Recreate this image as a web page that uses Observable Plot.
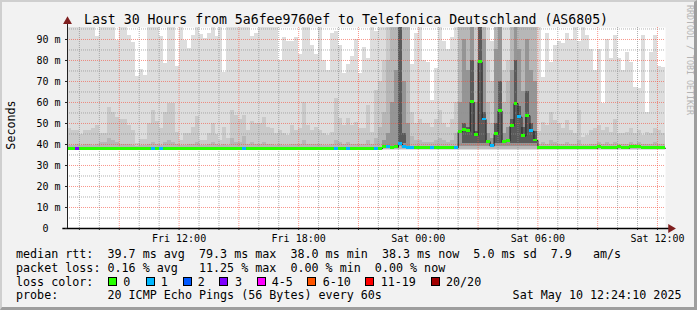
<!DOCTYPE html>
<html><head><meta charset="utf-8">
<script src="https://cdn.jsdelivr.net/npm/d3@7"></script>
<script src="https://cdn.jsdelivr.net/npm/@observablehq/plot@0.6"></script>
<style>
html,body{margin:0;padding:0;background:#f2f2f2;}
#wrap{position:relative;width:697px;height:310px;background:#f2f2f2;overflow:hidden;font-family:"DejaVu Sans Mono",monospace;}
#border{position:absolute;left:0;top:0;width:697px;height:310px;box-sizing:border-box;border-top:2px solid #cfcfcf;border-left:2px solid #cfcfcf;border-right:3px solid #9e9e9e;border-bottom:3px solid #9e9e9e;pointer-events:none}
#chart{position:absolute;left:0;top:0}
#overlay{position:absolute;left:0;top:0}
#overlay text{font-family:"DejaVu Sans Mono",monospace;white-space:pre;}
</style></head><body>
<div id="wrap"><div id="chart"></div><svg id="overlay" width="697" height="310"></svg><div id="border"></div></div>
<script>
// ---------- data ----------
const startISO = "2025-05-09T06:24:10Z";
const endISO = "2025-05-10T12:24:10Z";
const binMinutes = 12;
const yMax = 95.7;

const xTickTimes = ["2025-05-09T12:00:00Z","2025-05-09T18:00:00Z","2025-05-10T00:00:00Z","2025-05-10T06:00:00Z","2025-05-10T12:00:00Z"];
const xTickLabels = ["Fri 12:00","Fri 18:00","Sat 00:00","Sat 06:00","Sat 12:00"];
const yTickValues = [0,10,20,30,40,50,60,70,80,90];
const yTickLabels = ["0  ","10 m","20 m","30 m","40 m","50 m","60 m","70 m","80 m","90 m"];

// median rtt per 12-minute bin (ms)
const medianRtt = [
38.0,38.0,38.0,38.0,38.0,38.0,38.0,38.0,38.0,38.0,
38.0,38.0,38.0,38.0,38.0,38.0,38.0,38.0,38.0,38.0,
38.0,38.0,38.0,38.0,38.0,38.0,38.0,38.0,38.0,38.0,
38.0,38.0,38.0,38.0,38.0,38.0,38.0,38.0,38.0,38.0,
38.0,38.0,38.0,38.0,38.0,38.0,38.0,38.0,38.0,38.0,
38.0,38.0,38.0,38.0,38.0,38.0,38.0,38.0,38.0,38.0,
38.0,38.0,38.0,38.0,38.0,38.0,38.0,38.0,38.0,38.0,
38.0,38.0,38.0,38.0,38.0,38.0,38.0,38.0,38.0,38.6,
38.6,38.5,38.6,40.3,38.6,38.4,38.4,38.2,38.2,38.2,
38.4,38.2,38.2,38.2,38.2,38.2,38.2,38.4,45.9,46.7,
46.2,60.2,44.3,79.2,51.9,41.4,39.2,44.8,55.9,41.0,
41.6,48.7,59.5,53.0,44.0,53.7,46.3,41.9,38.2,38.2,
38.2,38.2,38.2,38.2,38.2,38.2,38.2,38.2,38.2,38.2,
38.2,38.2,38.2,38.9,38.2,38.2,38.2,38.2,38.6,38.2,
38.2,38.6,38.6,38.6,38.2,38.2,38.2,38.2,38.2,38.2
];
// lost pings (of 20) per bin
const lossCount = [
0,0,3,0,0,0,0,0,0,0,
0,0,0,0,0,0,0,0,0,0,
0,1,0,1,0,0,0,0,0,0,
0,0,0,0,0,0,0,0,0,0,
0,0,0,0,1,0,0,0,0,0,
0,0,0,0,0,0,0,0,0,0,
0,0,0,0,0,0,0,1,0,0,
1,0,0,0,0,0,0,1,0,0,
1,0,0,1,1,1,1,0,0,0,
0,1,0,0,0,0,0,1,0,0,
0,0,0,0,1,0,1,0,0,0,
0,0,0,1,0,0,1,0,0,0,
0,0,0,0,0,0,0,0,0,0,
0,0,0,0,0,0,0,0,0,0,
0,0,0,0,0,0,0,0,0,0
];
// smoke: outermost (max) ping per bin
const smokeMax = [
96,96,96,96,96,96,96,91.6,96,96,
96,96,89.4,96,96,91.8,88.5,72.5,75.5,73,
96,96,96,91.6,78.7,96,96,77.3,96,89.6,
85.8,91.7,96,92.2,90.3,93,96,91.6,96,74.4,
96,96,96,96,96,96,91.6,93,96,96,
96,96,96,80,91,89,89,91,83,96,
96,87,83,96,80,75,93,94,87,74,
78,82,90,74,86,81,96,94,96,96,
88,96,96,96,96,96,78,93,96,80,
79,61,76,96,89,85,91,96,96,96,
96,96,96,96,96,96,89,96,96,96,
96,96,96,96,96,96,96,96,96,72,
93,79,87,89,88,93,90,96,89,96,
92,85,75,85,59.5,90,81,92,81,75,
84,79,67,66.5,92,55.4,84,92,77,76.5
];
// second smoke layer
const smokeP2 = [
47.5,46.7,46.7,44.6,46.7,46.7,47.5,49,45,45,
57.8,55,53,51.9,51.9,49,46.7,40.6,42.4,42.4,
49.8,56.2,50.9,47.5,55.4,59.4,59.4,45.9,41.9,45,
45,48.3,53.5,41.9,41.9,45,49.8,44.6,41.9,48.3,
42.7,56.2,53.8,51.9,53.8,46.7,50.9,49.8,49.8,53,
48.3,47.5,45,46.7,45,44.3,49,46.7,47.5,59.8,
49,46.7,48.3,46.7,45,44.3,45.9,61.7,52.2,49,
52.2,49,50.6,47.5,47.5,58.6,45.9,65.7,70,80,
96,96,96,96,96,96,55,50,52,50,
50,48,52,56,50,48,52,60,96,96,
96,96,96,96,96,80,70,96,96,75,
80,96,96,96,96,96,96,96,46,50.6,
49,55.4,51.4,49.8,47.5,51.4,46.7,45,56,43.5,
44.3,46.7,47.5,49,46.7,48.3,45.9,52,45,45,
45.9,47.5,45,46.7,44.3,45.9,45,47.5,46.7,45
];
// third smoke layer
const smokeP3 = [
39.5,39.5,40,39.5,40,40,39.5,40,41,41,
43,42,41,40,40,40,39.5,39,39.5,39.5,
40,41,40,39.5,41,42,41,40,39.5,39.5,
40,40,41,39.5,39.5,40,41,40,39.5,40,
39.5,42.7,41,41,44,40,41,40,40,41,
40,40,39.5,40,39.5,39.5,40,40,40,42,
40,40,40,40,39.5,39.5,40,42,41,40,
41,40,40,40,40,42,40,43,48,55,
80,96,96,96,96,96,44,42,42,41,
41,41,42,43,42,41,42,45,96,96,
96,96,80,96,96,60,50,96,96,60,
70,96,96,96,96,96,96,96,40,41,
40,42,41,40,40,41,40,40,42,39.5,
39.5,40,40,41,40,41,40,41,40,40,
40,41,40,41,40,40,40,41,40,40
];
// fourth smoke layer (0 = none)
const smokeP4 = [
0,0,0,0,0,0,0,0,0,0, 0,0,0,0,0,0,0,0,0,0,
0,0,0,0,0,0,0,0,0,0, 0,0,0,0,0,0,0,0,0,0,
0,0,0,0,0,0,0,0,0,0, 0,0,0,0,0,0,0,0,0,0,
0,0,0,0,0,0,0,0,0,0, 0,0,0,0,0,0,0,0,0,42,
45,60,75,96,70,50,0,0,0,0,
0,0,0,0,0,0,0,0,60,90,
75,96,60,96,90,45,43,85,96,45,
48,75,96,85,65,90,75,70,0,0,
0,0,0,0,0,0,0,0,0,0, 0,0,0,0,0,0,0,0,0,0,
0,0,0,0,0,0,0,0,0,0
];
// innermost smoke layer (0 = none)
const smokeP5 = [
0,0,0,0,0,0,0,0,0,0, 0,0,0,0,0,0,0,0,0,0,
0,0,0,0,0,0,0,0,0,0, 0,0,0,0,0,0,0,0,0,0,
0,0,0,0,0,0,0,0,0,0, 0,0,0,0,0,0,0,0,0,0,
0,0,0,0,0,0,0,0,0,0, 0,0,0,0,0,0,0,0,0,0,
0,0,0,96,45,0,0,0,0,0,
0,0,0,0,0,0,0,0,0,50,
48,80,46,96,55,0,0,50,70,0,
0,52,80,58,48,65,50,46,0,0,
0,0,0,0,0,0,0,0,0,0, 0,0,0,0,0,0,0,0,0,0,
0,0,0,0,0,0,0,0,0,0
];
const smokeFloor = [37.0, 37.4, 37.8, 39.0, 40.5];
const smokeGreys = ["#dddddd","#cacaca","#b7b7b7","#959595","#5a5a5a"];

const lossUpper = [0,1,2,3,5,10,19,20];
const lossLegendLabels = ["0","1","2","3","4-5","6-10","11-19","20/20"];
const lossColors = ["#26ff00","#00b8ff","#0059ff","#7e00ff","#ff00ff","#ff5500","#ff0000","#a10000"];

const titleText = "Last 30 Hours from 5a6fee9760ef to Telefonica Deutschland (AS6805)";
const yAxisTitle = "Seconds";
const statLines = [
  "median rtt:  39.7 ms avg  79.3 ms max  38.0 ms min  38.3 ms now  5.0 ms sd  7.9   am/s",
  "packet loss: 0.16 % avg   11.25 % max  0.00 % min  0.00 % now",
  "loss color:",
  "probe:       20 ICMP Echo Pings (56 Bytes) every 60s"
];
const dateText = "Sat May 10 12:24:10 2025";
const watermark = "RRDTOOL / TOBI OETIKER";

// ---------- build ----------
const t0 = new Date(startISO).getTime();
const tEnd = new Date(endISO).getTime();
const binMs = binMinutes * 60000;
const lossColor = n => lossColors[lossUpper.findIndex(u => n <= u)];
const smokeLayers = [smokeMax, smokeP2, smokeP3, smokeP4, smokeP5];
const bins = medianRtt.map((m, i) => ({
  x1: new Date(t0 + i * binMs), x2: new Date(t0 + (i + 1) * binMs),
  med: m, loss: lossCount[i], p: smokeLayers.map(a => a[i])
}));
const stepPts = bins.flatMap(d => [{x: d.x1, y: d.med}, {x: d.x2, y: d.med}]);
const hours = d3.utcHour.range(new Date(t0), new Date(tEnd));
const majorHours = hours.filter(d => d.getUTCHours() % 3 === 0);
const minorHours = hours.filter(d => d.getUTCHours() % 3 !== 0);
const majorY = [10,20,30,40,50,60,70,80,90];
const minorY = [5,15,25,35,45,55,65,75,85,95];
const xTicks = xTickTimes.map(s => new Date(s));
const labelByTime = new Map(xTicks.map((t, i) => [+t, xTickLabels[i]]));
const nb = s => s.replace(/ /g, "\u00a0");

const smokeMarks = smokeGreys.map((g, k) => Plot.rect(
  bins.filter(d => d.p[k] > smokeFloor[k]),
  {x1: "x1", x2: "x2", y1: () => smokeFloor[k], y2: d => Math.min(d.p[k], yMax),
   fill: g, clip: true, shapeRendering: "crispEdges"}));

const chart = Plot.plot({
  width: 697, height: 245,
  marginLeft: 67, marginRight: 32, marginTop: 27, marginBottom: 17,
  style: {fontFamily: "DejaVu Sans Mono", fontSize: "10px", background: "transparent", color: "#000", overflow: "visible"},
  x: {type: "utc", domain: [new Date(t0), new Date(tEnd)]},
  y: {domain: [0, yMax]},
  marks: [
    Plot.frame({fill: "white", stroke: null}),
    ...smokeMarks,
    Plot.ruleX(minorHours, {stroke: "#8f8f8f", strokeOpacity: 0.7, strokeDasharray: "1,1"}),
    Plot.ruleX(majorHours, {stroke: "#f5503d", strokeOpacity: 0.6, strokeDasharray: "1,1"}),
    Plot.ruleY(minorY, {stroke: "#8f8f8f", strokeOpacity: 0.7, strokeDasharray: "1,1"}),
    Plot.ruleY(majorY, {stroke: "#f5503d", strokeOpacity: 0.6, strokeDasharray: "1,1"}),
    Plot.line(stepPts, {x: "x", y: "y", stroke: "#202020", strokeWidth: 1}),
    Plot.rect(bins, {x1: "x1", x2: "x2", y1: d => d.med - 0.7, y2: d => d.med + 0.7,
      fill: d => lossColor(d.loss), shapeRendering: "crispEdges"}),
    Plot.ruleY([0], {x1: new Date(t0 - 14 * 60000), x2: new Date(tEnd + 14 * 60000), stroke: "#000", strokeWidth: 1.5}),
    Plot.ruleX([new Date(t0)], {y1: 0, y2: 98.5, stroke: "#212121"}),
    Plot.dot([0], {x: () => new Date(t0), y: () => 98.6, symbol: "triangle", r: 3.3, fill: "#7f1f1f", stroke: null}),
    Plot.dot([0], {x: () => new Date(tEnd + 16 * 60000), y: () => 0, symbol: "triangle", r: 3.3, rotate: 90, fill: "#7f1f1f", stroke: null}),
    Plot.axisY(yTickValues, {tickSize: 2, tickPadding: 5, tickFormat: d => nb(yTickLabels[yTickValues.indexOf(d)]), label: null, stroke: "#212121"}),
    Plot.axisX(hours, {tickSize: 2, tickFormat: () => "", label: null, stroke: "#212121"}),
    Plot.axisX(xTicks, {tickSize: 0, tickPadding: 6, tickFormat: d => labelByTime.get(+d), label: null})
  ]
});
document.getElementById("chart").appendChild(chart);

// ---------- texts ----------
const ov = d3.select("#overlay");
ov.append("text").attr("x", 84).attr("y", 24).attr("font-size", 13.2).attr("fill", "#000").text(titleText);
ov.append("text").attr("transform", "translate(15,125) rotate(-90)").attr("text-anchor", "middle")
  .attr("font-size", 11.7).attr("fill", "#000").text(yAxisTitle);
ov.append("text").attr("transform", "translate(686.5,5) rotate(90)").attr("font-size", 8.3)
  .attr("fill", "#b4b4b4").text(watermark);
const baselines = [258.3, 271.8, 285.6, 299.3];
statLines.forEach((s, i) => ov.append("text").attr("x", 16).attr("y", baselines[i])
  .attr("font-size", 11.7).attr("fill", "#000").text(s));
ov.append("text").attr("x", 681.5).attr("y", baselines[3]).attr("text-anchor", "end")
  .attr("font-size", 11.7).attr("fill", "#000").text(dateText);
const swatchX = [108.3, 145.7, 182.7, 219.3, 256.7, 307.3, 365, 430.7];
const legendLabelX = [123.3, 160.7, 197.7, 235, 271.7, 322.7, 380.7, 446];
lossLegendLabels.forEach((lab, i) => {
  ov.append("rect").attr("x", Math.round(swatchX[i]) + 0.5).attr("y", 277.5).attr("width", 8).attr("height", 8)
    .attr("fill", lossColors[i]).attr("stroke", "#000").attr("stroke-width", 1);
  ov.append("text").attr("x", legendLabelX[i]).attr("y", baselines[2]).attr("font-size", 11.7)
    .attr("fill", "#000").text(lab);
});
</script>
</body></html>
